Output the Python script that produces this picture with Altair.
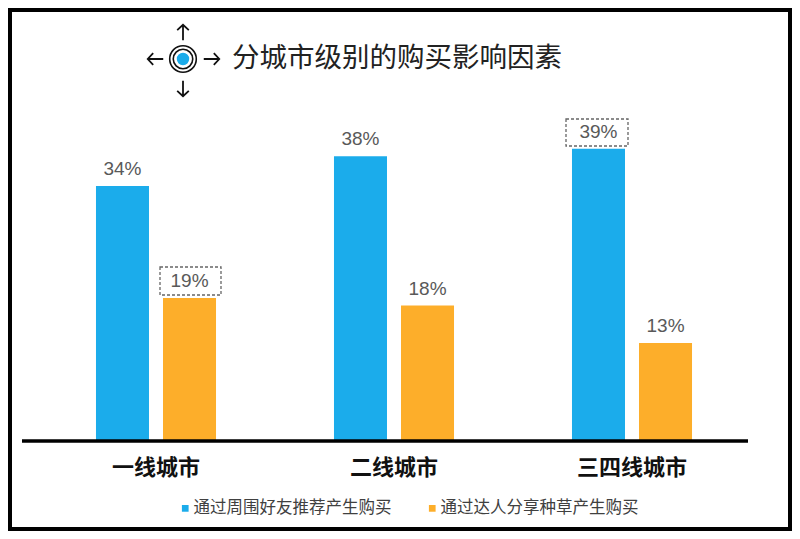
import altair as alt
import pandas as pd

cities = ["一线城市", "二线城市", "三四线城市"]
series_names = ["通过周围好友推荐产生购买", "通过达人分享种草产生购买"]
friends = [0.34, 0.38, 0.39]
influencers = [0.19, 0.18, 0.13]
colors = ["#1BACEB", "#FDAE2A"]
title_text = "分城市级别的购买影响因素"
FONT = "Noto Sans CJK SC"

rows = []
for c, a, b in zip(cities, friends, influencers):
    rows.append({"city": c, "series": series_names[0], "value": a})
    rows.append({"city": c, "series": series_names[1], "value": b})
df = pd.DataFrame(rows)
one = alt.Data(values=[{"k": 1}])

PX = 37  # page x of plot origin
PY = 8   # page y of plot origin


def vx(p):
    return alt.value(p - PX)


def vy(p):
    return alt.value(p - PY)


x_enc = alt.X("city:N", sort=cities, title=None,
              scale=alt.Scale(paddingInner=0, paddingOuter=0),
              axis=alt.Axis(domain=False, ticks=False, labelAngle=0, labelFontSize=22,
                            labelFontWeight="bold", labelColor="#111111", labelFont=FONT,
                            labelPadding=17, grid=False))
off_enc = alt.XOffset("series:N", sort=series_names,
                      scale=alt.Scale(paddingInner=0.209, paddingOuter=0.88))
y_enc = alt.Y("value:Q", axis=None, scale=alt.Scale(domain=[0, 0.5783], nice=False))

bars = alt.Chart(df).mark_bar(cornerRadius=0).encode(
    x=x_enc, xOffset=off_enc, y=y_enc,
    color=alt.Color("series:N", sort=series_names,
                    scale=alt.Scale(domain=series_names, range=colors),
                    legend=alt.Legend(orient="none", legendX=184 - PX - 7, legendY=500 - PY,
                                      direction="horizontal", columns=2, title=None,
                                      symbolType="square", symbolSize=45, symbolStrokeWidth=0,
                                      labelFont=FONT, labelFontSize=16.5, labelColor="#404040",
                                      labelLimit=0, labelOffset=0, columnPadding=32, padding=0)),
)
labels = alt.Chart(df).mark_text(baseline="middle", dy=-17, font="Liberation Sans",
                                 fontSize=19, color="#595959").encode(
    x=x_enc, xOffset=off_enc, y=y_enc, text=alt.Text("value:Q", format=".0%"))

baseline_rule = alt.Chart(one).mark_rule(color="#000000", strokeWidth=3.5).encode(
    x=vx(22), x2=vx(748), y=vy(441))

layers = [bars, baseline_rule, labels]

# dashed call-out boxes
for (x0, x1, y0, y1) in [(160, 221, 267, 295), (566, 628, 119, 146)]:
    layers.append(alt.Chart(one).mark_rect(fillOpacity=0, stroke="#666666", strokeWidth=1.3,
                                           strokeDash=[3, 2]).encode(
        x=vx(x0), x2=vx(x1), y=vy(y0), y2=vy(y1)))

# outer frame
layers.append(alt.Chart(one).mark_rect(fillOpacity=0, stroke="#000000", strokeWidth=4).encode(
    x=vx(10), x2=vx(790), y=vy(10), y2=vy(529)))

# target icon
for size, filled, col in [(707, False, "#111111"), (380, False, "#111111"), (154, True, "#1BACEB")]:
    layers.append(alt.Chart(one).mark_point(shape="circle", size=size, filled=filled, color=col,
                                            opacity=1, strokeWidth=1.6).encode(
        x=vx(183), y=vy(59)))
arrow = "M0,1 L0,-1 M-0.75,-0.3 L0,-1 L0.75,-0.3"
for cx, cy, ang in [(183, 32.5, 0), (183, 88.5, 180), (155.5, 59, 270), (211.5, 59, 90)]:
    layers.append(alt.Chart(one).mark_point(shape=arrow, size=240, filled=False, color="#111111",
                                            opacity=1, strokeWidth=1.8, angle=ang).encode(
        x=vx(cx), y=vy(cy)))

chart = alt.layer(*layers).properties(
    width=714, height=432,
    padding={"left": 29, "top": 0, "right": 41, "bottom": 91},
    autosize=alt.AutoSizeParams(type="none"),
    title=alt.TitleParams(title_text, font=FONT, fontSize=27.5, fontWeight="normal", color="#222222",
                          anchor="start", frame="group", align="left", baseline="middle",
                          dx=232 - PX, dy=78, offset=0),
).configure_view(stroke=None).configure_scale(bandPaddingInner=0)

chart.save("out.html", embed_options={"renderer": "svg", "actions": False})
